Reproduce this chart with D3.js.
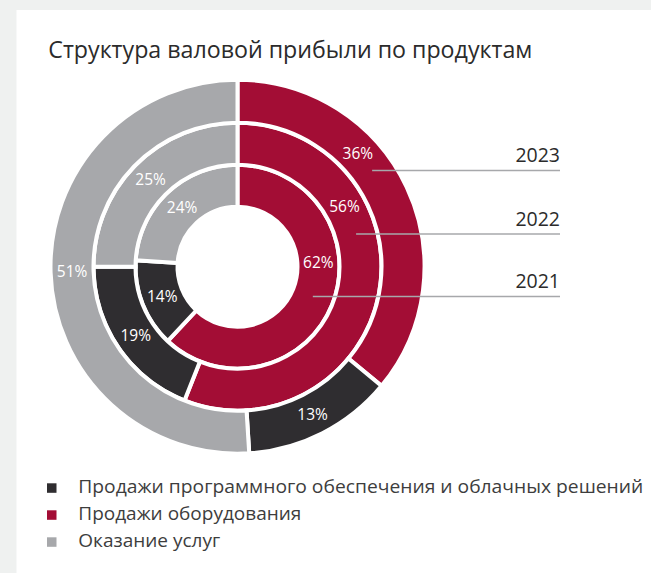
<!DOCTYPE html>
<html><head><meta charset="utf-8">
<script src="https://cdn.jsdelivr.net/npm/d3@7"></script>
<style>
html,body{margin:0;padding:0;background:#eff1f0;}
svg{display:block;}
</style></head>
<body>
<svg id="chart" width="651" height="573"></svg>
<script>
// ---- data ----
const title = "Структура валовой прибыли по продуктам";
const categories = ["Продажи оборудования", "Продажи программного обеспечения и облачных решений", "Оказание услуг"];
const years = ["2021", "2022", "2023"];           // inner -> outer
const hardware = [62, 56, 36];
const software = [14, 19, 13];
const services = [24, 25, 51];
const legendOrder = [1, 0, 2];                     // index into categories

// ---- layout ----
const colors = ["#a30d35", "#2f2d30", "#a7a8ab"];
const cx = 237.5, cy = 266.7;
const ringEdges = [60, 102, 144, 187];
const leaderFrac = [0.50, 0.37, 0.42];   // fraction along red segment where leader starts
const redLabelFrac = [0.39, 0.30, 0.36]; // fraction along red segment for red label
const lineEndX = 560;

const svg = d3.select("#chart");
svg.append("rect").attr("x", 16.5).attr("y", 10).attr("width", 651).attr("height", 600).attr("fill", "#ffffff");

const font = "'Open Sans', 'Noto Sans', sans-serif";

svg.append("text").attr("x", 48.3).attr("y", 58.3)
  .attr("font-family", font).attr("font-size", 23).attr("fill", "#2b2b2b")
  .attr("textLength", 484).attr("lengthAdjust", "spacingAndGlyphs")
  .text(title);

const g = svg.append("g").attr("transform", `translate(${cx},${cy})`);
const ringsG = g.append("g");
const linesG = g.append("g");
const labelsG = g.append("g");
const pie = d3.pie().sort(null).value(d => d.v);
const fmt = d => d + "%";

years.forEach((yr, i) => {
  const vals = [hardware[i], software[i], services[i]].map((v, k) => ({v, k}));
  const arcs = pie(vals);
  const inner = ringEdges[i], outer = ringEdges[i + 1];
  const arc = d3.arc().innerRadius(inner).outerRadius(outer);
  ringsG.append("g").selectAll("path").data(arcs).enter().append("path")
    .attr("d", arc)
    .attr("fill", d => colors[d.data.k])
    .attr("stroke", "#ffffff").attr("stroke-width", 4)
    .attr("stroke-linejoin", "miter");
  const midR = (inner + outer) / 2;
  arcs.forEach(a => {
    let ang;
    if (a.data.k === 0) ang = a.startAngle + (a.endAngle - a.startAngle) * redLabelFrac[i];
    else ang = (a.startAngle + a.endAngle) / 2;
    const x = midR * Math.sin(ang), y = -midR * Math.cos(ang);
    labelsG.append("text").attr("x", x).attr("y", y).attr("dy", "0.35em")
      .attr("text-anchor", "middle").attr("font-family", font).attr("font-size", 15.5)
      .attr("fill", "#ffffff").text(fmt(a.data.v));
  });
  // leader line
  const red = arcs[0];
  const la = red.startAngle + (red.endAngle - red.startAngle) * leaderFrac[i];
  const lx = midR * Math.sin(la), ly = -midR * Math.cos(la);
  linesG.append("line").attr("x1", lx).attr("y1", ly).attr("x2", lineEndX - cx).attr("y2", ly)
    .attr("stroke", "#a7a8ab").attr("stroke-width", 1.6);
  labelsG.append("text").attr("x", lineEndX - cx).attr("y", ly - 8.5)
    .attr("text-anchor", "end").attr("font-family", font).attr("font-size", 19.5)
    .attr("fill", "#2b2b2b").text(yr);
});

// legend
const lg = svg.append("g");
legendOrder.forEach((ci, j) => {
  const y = 493.3 + j * 27;
  lg.append("rect").attr("x", 47).attr("y", y - 10).attr("width", 9.5).attr("height", 9.5)
    .attr("fill", colors[ci]);
  const t = lg.append("text").attr("x", 78.3).attr("y", y)
    .attr("font-family", font).attr("font-size", 19).attr("fill", "#3d3d3d")
    .text(categories[ci]);
  if (j === 0) t.attr("textLength", 565).attr("lengthAdjust", "spacingAndGlyphs");
});
</script>
</body></html>
